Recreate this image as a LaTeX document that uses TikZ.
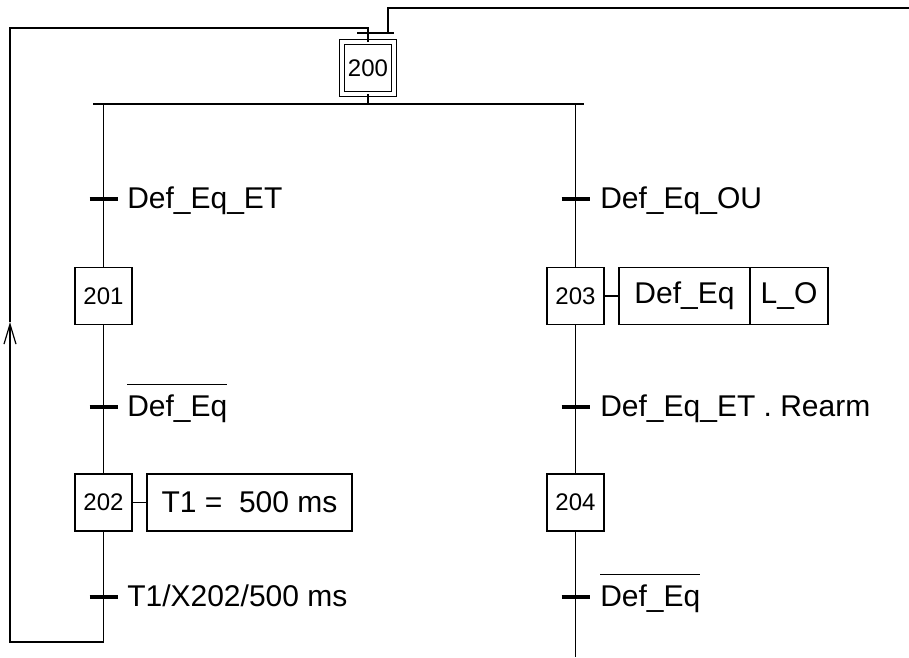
\documentclass[tikz,border=0pt]{standalone}
\usepackage{fontspec}
\setmainfont{Liberation Sans}
\usetikzlibrary{arrows.meta}
\newcommand\barre[1]{\leavevmode\vbox{\hrule height 0.9pt\kern 6.8pt\hbox{#1}}}
\tikzset{
  etape/.style ={rectangle, draw, line width=0.9pt, minimum size=42.75pt,
                 inner sep=0pt, outer sep=0pt, font=\fontsize{18}{18}\selectfont},
  act/.style   ={rectangle, draw, line width=0.9pt, minimum height=42.75pt,
                 inner sep=0pt, outer sep=0pt, font=\fontsize{22.5}{22.5}\selectfont},
  rec/.style   ={anchor=base west, inner sep=0pt, font=\fontsize{22.5}{22.5}\selectfont},
  lien/.style  ={line width=0.9pt},
  tick/.style  ={line width=2.4pt},
}
\begin{document}
\begin{tikzpicture}[x=0.75pt, y=-0.75pt]
  \useasboundingbox (0,0) rectangle (909,657);

  % etapes
  \node[etape, double, double distance=2.6pt, minimum size=39.3pt] (e200) at (368,68) {200};
  \node[etape] (e201) at (103.5,296) {201};
  \node[etape] (e202) at (103.5,502.5) {202};
  \node[etape] (e203) at (575.5,296) {203};
  \node[etape] (e204) at (575.5,502.5) {204};

  % actions
  \node[act, minimum width=153.75pt] (a202) at (249.5,502.5) {T1 =~ 500 ms};
  \node[act, minimum width=98.25pt] (a203a) at (684.5,296) {Def\_Eq};
  \node[act, minimum width=58.5pt] (a203b) at (789,296) {L\_O};
  \draw[lien] (e202.east) -- (a202.west);
  \draw[lien] (e203.east) -- (a203a.west);

  % transitions
  \coordinate (t1) at (103.5,199);
  \coordinate (t2) at (103.5,407);
  \coordinate (t3) at (103.5,597);
  \coordinate (t4) at (575.5,199);
  \coordinate (t5) at (575.5,407);
  \coordinate (t6) at (575.5,597);
  \foreach \t in {t1,t2,t3,t4,t5,t6}{\draw[tick] ([xshift=-10.5pt]\t) -- ([xshift=10.5pt]\t);}

  \node[rec] (r1) at (127,208) {Def\_Eq\_ET};
  \node[rec] (r2) at (127,416) {\barre{Def\_Eq}};
  \node[rec] (r3) at (127,606) {T1/X202/500 ms};
  \node[rec] (r4) at (600,208) {Def\_Eq\_OU};
  \node[rec] (r5) at (600,416) {Def\_Eq\_ET . Rearm};
  \node[rec] (r6) at (600,606) {\barre{Def\_Eq}};

  % convergence / divergence
  \coordinate (convG) at (357,33);
  \coordinate (convD) at (394,33);
  \coordinate (conv) at (368,33);
  \coordinate (divG) at (93,104);
  \coordinate (divD) at (584,104);
  \coordinate (dG) at (103.5,104);
  \coordinate (dD) at (575.5,104);
  \draw[lien] (convG) -- (convD);
  \draw[lien] (conv) -- (e200.north);
  \draw[lien] (e200.south) -- (e200.south |- divG);
  \draw[lien] (divG) -- (divD);

  % branche gauche
  \draw[lien] (dG) -- (e201.north);
  \draw[lien] (e201.south) -- (e202.north);
  \coordinate (bas) at (103.5,642);
  \coordinate (pointe) at (10,322);
  \coordinate (hautG) at (368,28);
  \draw[lien] (e202.south) -- (bas);
  \draw[lien, -{Straight Barb[length=15pt, width=9pt]}] (bas) -| (pointe);
  \draw[lien] (pointe) |- (hautG) -- (conv);

  % branche droite
  \coordinate (finD) at (575.5,657);
  \draw[lien] (dD) -- (e203.north);
  \draw[lien] (e203.south) -- (e204.north);
  \draw[lien] (e204.south) -- (finD);
  \coordinate (sortie) at (909,8);
  \coordinate (retD) at (388,33);
  \draw[lien] (sortie) -| (retD);
\end{tikzpicture}
\end{document}
